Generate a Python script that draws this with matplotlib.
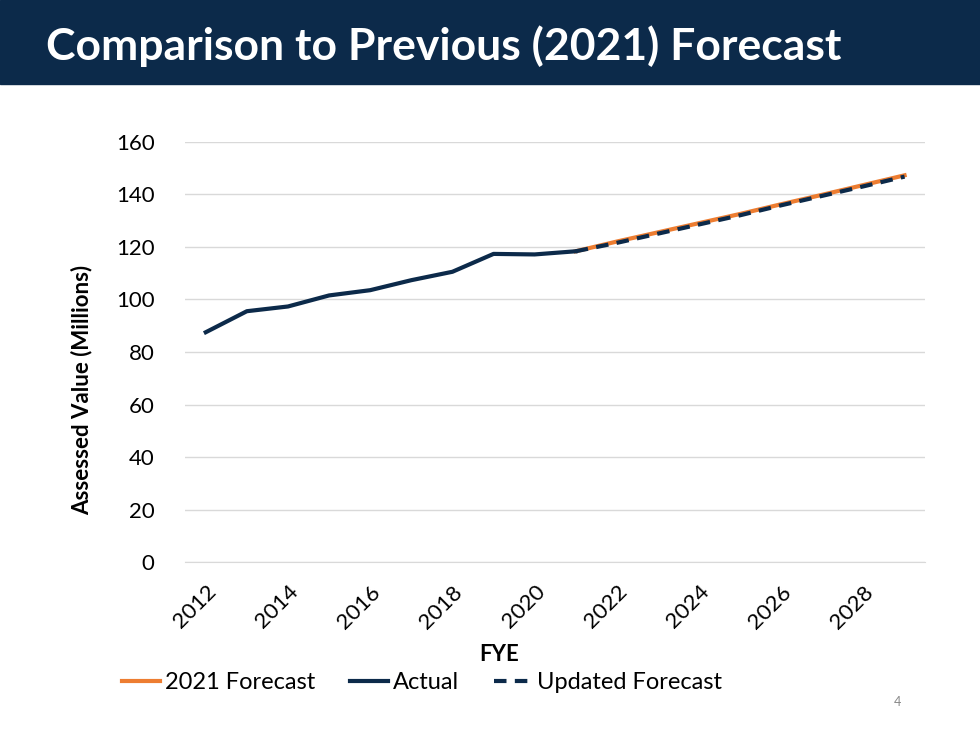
import matplotlib.pyplot as plt
from matplotlib.patches import Rectangle

NAVY = "#0c2a4a"
ORANGE = "#ed7d31"

actual_years = [2012, 2013, 2014, 2015, 2016, 2017, 2018, 2019, 2020, 2021]
actual = [87.5, 95.5, 97.3, 101.5, 103.5, 107.3, 110.5, 117.3, 117.1, 118.3]
fc_years = [2021, 2022, 2023, 2024, 2025, 2026, 2027, 2028, 2029]
fc_2021 = [118.3, 122.0, 125.5, 129.0, 132.5, 136.2, 139.8, 143.5, 147.2]
updated = [118.3, 121.5, 125.0, 128.5, 132.0, 135.8, 139.4, 143.0, 146.7]
tick_years = [2012, 2014, 2016, 2018, 2020, 2022, 2024, 2026, 2028]

plt.rcParams["font.family"] = ["Lato", "DejaVu Sans"]

fig = plt.figure(figsize=(9.8, 7.34), dpi=100)
fig.patches.append(Rectangle((0, 1 - 84 / 734), 1, 84 / 734, transform=fig.transFigure,
                             color=NAVY, zorder=0))
fig.text(0.047, 1 - 46 / 734, "Comparison to Previous (2021) Forecast", color="white",
         fontsize=32, fontweight="bold", va="center", ha="left")

ax = fig.add_axes([0.189, 0.234, 0.755, 0.573])
ax.plot(fc_years, fc_2021, color=ORANGE, lw=3, label="2021 Forecast", zorder=2)
ax.plot(actual_years, actual, color=NAVY, lw=3, label="Actual", zorder=3)
ax.plot(fc_years, updated, color=NAVY, lw=3, ls=(0, (3, 2)), label="Updated Forecast", zorder=4)

ax.set_xlim(2011.5, 2029.5)
ax.set_ylim(0, 160)
ax.set_yticks(range(0, 161, 20))
ax.set_xticks(tick_years)
ax.set_xticklabels([str(y) for y in tick_years], rotation=45, ha="right",
                   rotation_mode="anchor", fontsize=16)
ax.tick_params(axis="y", labelsize=16, length=0, pad=22)
ax.tick_params(axis="x", length=0, pad=14)
ax.grid(axis="y", color="#d9d9d9", lw=1)
ax.set_axisbelow(True)
for s in ["top", "right", "left"]:
    ax.spines[s].set_visible(False)
ax.spines["bottom"].set_color("#d9d9d9")
ax.set_xlabel("FYE", fontsize=16, fontweight="bold", labelpad=8)
ax.xaxis.set_label_coords(0.424, -0.195)
ax.set_ylabel("Assessed Value (Millions)", fontsize=16, fontweight="bold", labelpad=14)
ax.yaxis.set_label_coords(-0.125, 0.41)

ax.legend(loc="center", bbox_to_anchor=(0.32, -0.286), ncol=3, frameon=False,
          fontsize=17, handlelength=1.6, handletextpad=0.2, columnspacing=1.5)
fig.text(0.92, 1 - 702 / 734, "4", fontsize=9, color="#888888", ha="right", va="center")

fig.savefig("out.png", dpi=100)
